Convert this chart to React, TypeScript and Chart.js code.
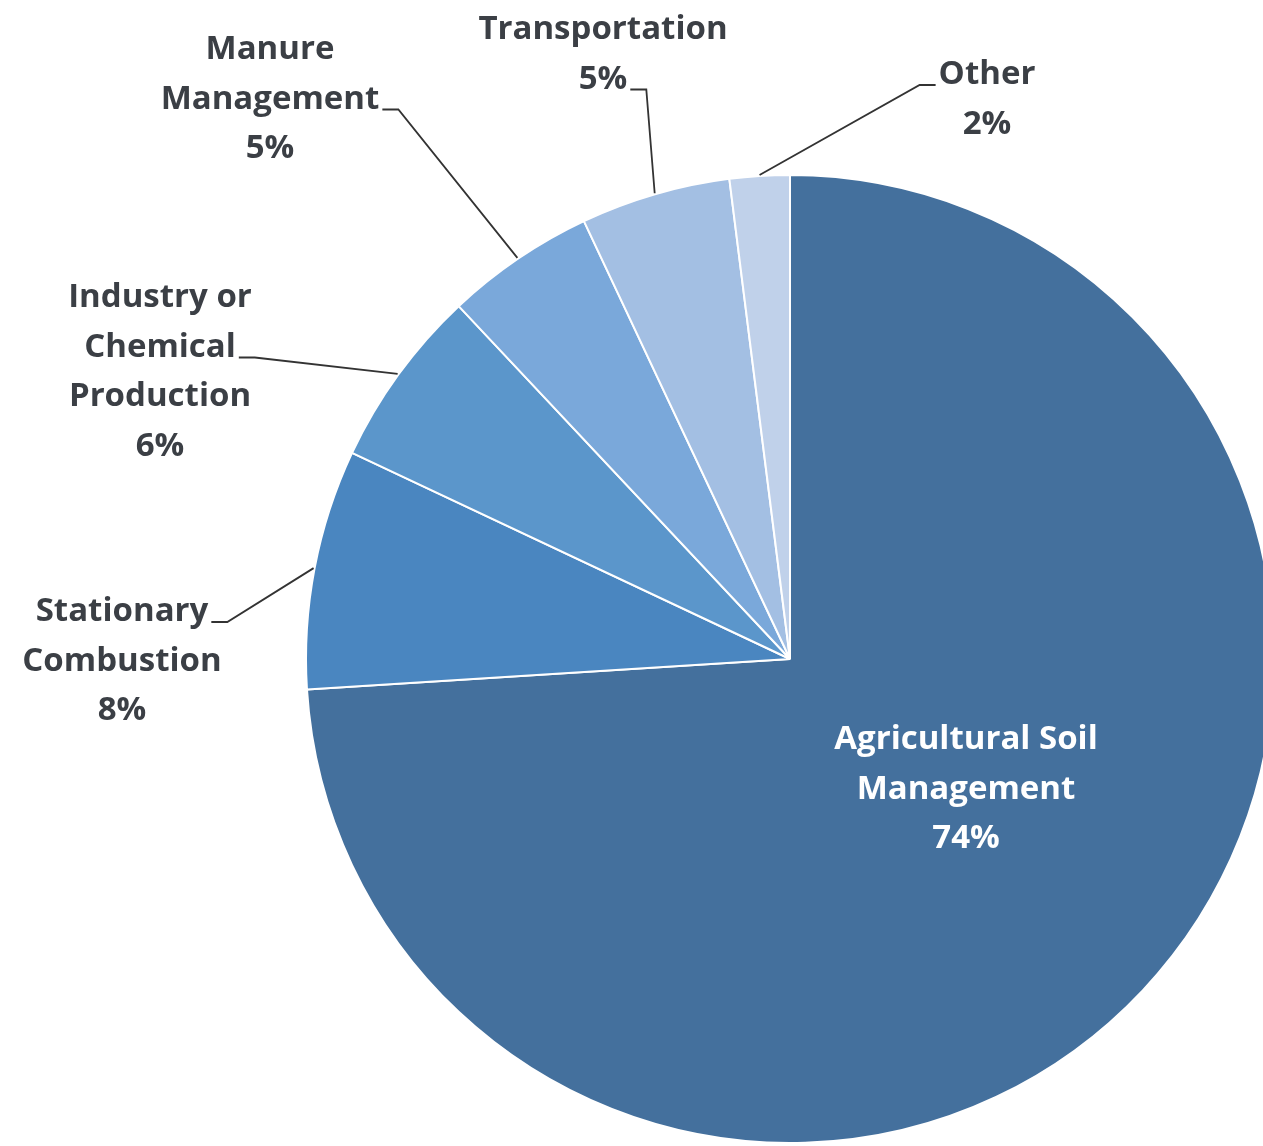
import React, { useEffect, useRef } from "react";
import { Chart, registerables } from "chart.js";

Chart.register(...registerables);

// ---- data ----
const categories = [
  "Agricultural Soil Management",
  "Stationary Combustion",
  "Industry or Chemical Production",
  "Manure Management",
  "Transportation",
  "Other",
];
const shares = [74, 8, 6, 5, 5, 2];
const labelLines = [
  ["Agricultural Soil", "Management"],
  ["Stationary", "Combustion"],
  ["Industry or", "Chemical", "Production"],
  ["Manure", "Management"],
  ["Transportation"],
  ["Other"],
];
const percentLabels = ["74%", "8%", "6%", "5%", "5%", "2%"];

// ---- style ----
const colors = ["#44709D", "#4A86C0", "#5B96CB", "#7AA8DA", "#A3BFE3", "#C0D1EA"];
const FONT = "bold 33px 'Open Sans', Lato, sans-serif";
const LINE_H = 49.5;
// label layout: centre x, first-line centre y, which line the leader attaches to, side
const labelLayout = [
  { x: 966, y: 740, inside: true, attach: 0, side: "right" },
  { x: 122, y: 612, inside: false, attach: 0, side: "right" },
  { x: 160, y: 298, inside: false, attach: 1, side: "right" },
  { x: 270, y: 50, inside: false, attach: 1, side: "right" },
  { x: 603, y: 30, inside: false, attach: 1, side: "right" },
  { x: 987, y: 75, inside: false, attach: 0, side: "left" },
];

const labelPlugin = {
  id: "pieLabels",
  afterDatasetsDraw(chart: any) {
    const ctx = chart.ctx as CanvasRenderingContext2D;
    const meta = chart.getDatasetMeta(0);
    ctx.save();
    ctx.font = FONT;
    ctx.textAlign = "center";
    ctx.textBaseline = "middle";
    meta.data.forEach((arc: any, i: number) => {
      const lay = labelLayout[i];
      const lines = [...labelLines[i], percentLabels[i]];
      if (!lay.inside) {
        const p = arc.getProps(["x", "y", "startAngle", "endAngle", "outerRadius"], true);
        const mid = (p.startAngle + p.endAngle) / 2;
        const ex = p.x + Math.cos(mid) * (p.outerRadius + 1);
        const ey = p.y + Math.sin(mid) * (p.outerRadius + 1);
        const w = ctx.measureText(lines[lay.attach]).width;
        const ay = lay.y + lay.attach * LINE_H + 10;
        let sx: number, hx: number;
        if (lay.side === "right") {
          sx = lay.x + w / 2 + 3;
          hx = sx + 16;
        } else {
          sx = lay.x - w / 2 - 3;
          hx = sx - 16;
        }
        ctx.beginPath();
        ctx.strokeStyle = "#333333";
        ctx.lineWidth = 1.8;
        ctx.moveTo(sx, ay);
        ctx.lineTo(hx, ay);
        ctx.lineTo(ex, ey);
        ctx.stroke();
      }
      ctx.fillStyle = lay.inside ? "#ffffff" : "#3b3f45";
      lines.forEach((t, k) => {
        ctx.fillText(t, lay.x, lay.y + k * LINE_H);
      });
    });
    ctx.restore();
  },
};

export default function App() {
  const ref = useRef<HTMLCanvasElement | null>(null);
  useEffect(() => {
    document.body.style.margin = "0";
    const c = ref.current!;
    const chart = new Chart(c, {
      type: "pie",
      data: {
        labels: categories,
        datasets: [
          {
            data: shares,
            backgroundColor: colors,
            borderColor: "#ffffff",
            borderWidth: 2,
            hoverOffset: 0,
          },
        ],
      },
      options: {
        animation: false,
        responsive: false,
        devicePixelRatio: 1,
        layout: { padding: { left: 305, right: 15, top: 174, bottom: 2 } },
        plugins: {
          legend: { display: false },
          tooltip: { enabled: false },
        },
        events: [],
      },
      plugins: [labelPlugin],
    });
    return () => chart.destroy();
  }, []);
  return (
    <div
      style={{
        position: "fixed",
        left: 0,
        top: 0,
        width: 1263,
        height: 1146,
        overflow: "hidden",
        background: "#ffffff",
      }}
    >
      <canvas ref={ref} width={1290} height={1146} style={{ width: 1290, height: 1146, display: "block" }} />
    </div>
  );
}
